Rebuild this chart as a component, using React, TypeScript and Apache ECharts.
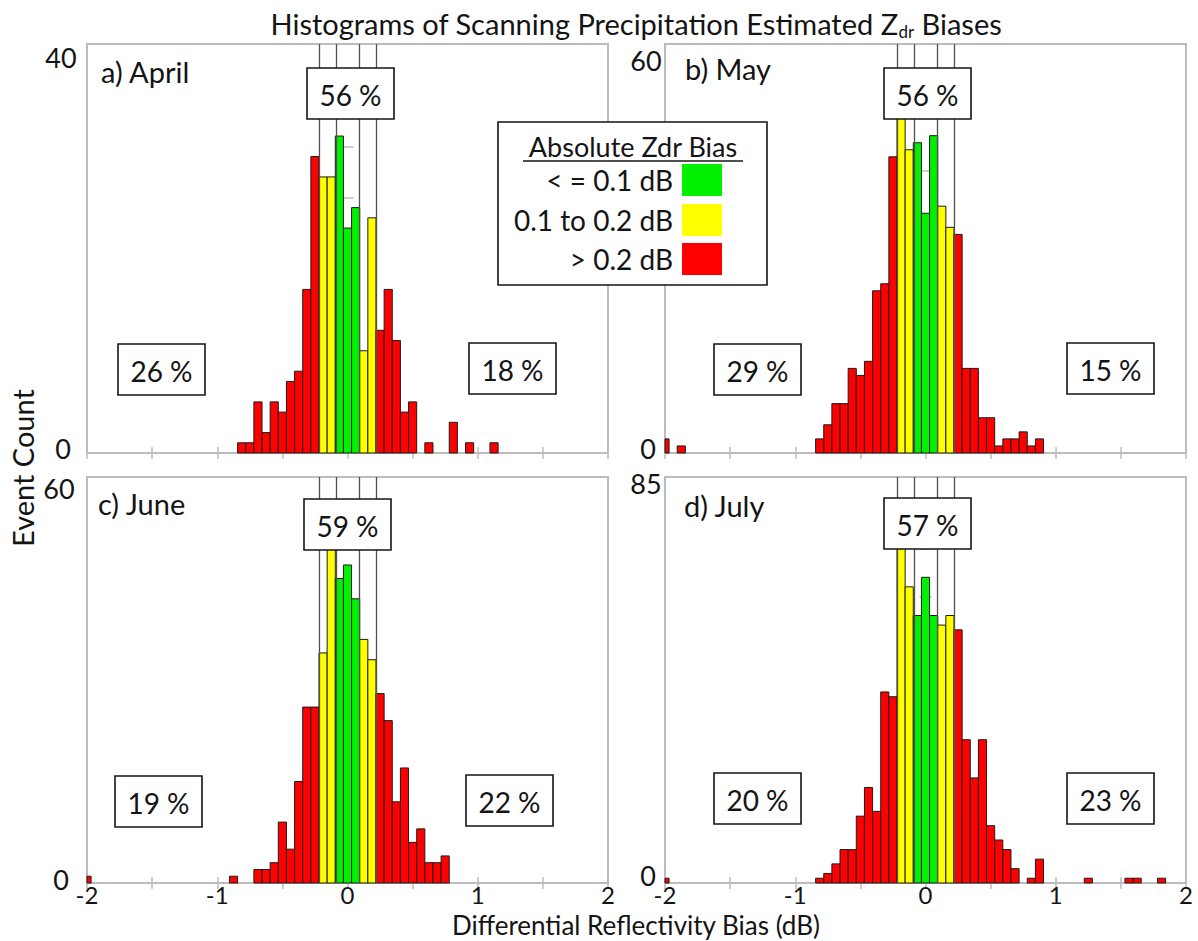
import React, { useEffect, useRef } from 'react';
import * as echarts from 'echarts';

// Histogram bins are 1/16 dB wide and centred on multiples of 1/16 dB.
const BIN_WIDTH = 0.0625;
// Colour classes by absolute Zdr bias (dB)
const GREEN_LIMIT = 0.1;
const YELLOW_LIMIT = 0.2;
// Bin edges that separate the colour classes
const GUIDE_EDGES = [-0.21875, -0.09375, 0.09375, 0.21875];

// [bin centre (dB), event count]
const aprilCounts: [number, number][] = [
  [-0.8125, 1], [-0.75, 1], [-0.6875, 5], [-0.625, 2], [-0.5625, 5], [-0.5, 4],
  [-0.4375, 7], [-0.375, 8], [-0.3125, 16], [-0.25, 29], [-0.1875, 27], [-0.125, 27],
  [-0.0625, 31], [0, 22], [0.0625, 24], [0.125, 10], [0.1875, 23], [0.25, 12],
  [0.3125, 16], [0.375, 11], [0.4375, 4], [0.5, 5], [0.625, 1], [0.8125, 3],
  [0.9375, 1], [1.125, 1],
];
const mayCounts: [number, number][] = [
  [-2, 2], [-1.875, 1], [-0.8125, 2], [-0.75, 4], [-0.6875, 7], [-0.625, 7],
  [-0.5625, 12], [-0.5, 11], [-0.4375, 13], [-0.375, 23], [-0.3125, 24], [-0.25, 42],
  [-0.1875, 53], [-0.125, 43], [-0.0625, 44], [0, 34], [0.0625, 45], [0.125, 35],
  [0.1875, 32], [0.25, 31], [0.3125, 12], [0.375, 12], [0.4375, 5], [0.5, 5],
  [0.5625, 1], [0.625, 2], [0.6875, 2], [0.75, 3], [0.8125, 1], [0.875, 2],
];
const juneCounts: [number, number][] = [
  [-2, 1], [-0.875, 1], [-0.6875, 2], [-0.625, 2], [-0.5625, 3], [-0.5, 9],
  [-0.4375, 5], [-0.375, 15], [-0.3125, 26], [-0.25, 26], [-0.1875, 34], [-0.125, 50],
  [-0.0625, 45], [0, 47], [0.0625, 42], [0.125, 36], [0.1875, 33], [0.25, 28],
  [0.3125, 24], [0.375, 12], [0.4375, 17], [0.5, 6], [0.5625, 8], [0.625, 3],
  [0.6875, 3], [0.75, 4],
];
const julyCounts: [number, number][] = [
  [-2, 1], [-0.8125, 1], [-0.75, 2], [-0.6875, 4], [-0.625, 7], [-0.5625, 7],
  [-0.5, 14], [-0.4375, 20], [-0.375, 15], [-0.3125, 40], [-0.25, 39], [-0.1875, 76],
  [-0.125, 62], [-0.0625, 56], [0, 64], [0.0625, 56], [0.125, 54], [0.1875, 56],
  [0.25, 53], [0.3125, 30], [0.375, 22], [0.4375, 30], [0.5, 12], [0.5625, 9],
  [0.625, 7], [0.6875, 3], [0.8125, 1], [0.875, 5], [1.25, 1], [1.5625, 1],
  [1.625, 1], [1.8125, 1],
];

const PANEL_COUNTS = [aprilCounts, mayCounts, juneCounts, julyCounts];
const PANEL_NAMES = ['a) April', 'b) May', 'c) June', 'd) July'];
const Y_MAX = [40, 58, 60, 85];
const Y_STEP = [5, 10, 10, 10];
const Y_TOP_LABELS = ['40', '60', '60', '85'];
const Y_BOTTOM_LABEL = '0';
const PCT_LOW = ['26 %', '29 %', '19 %', '20 %'];
const PCT_MID = ['56 %', '56 %', '59 %', '57 %'];
const PCT_HIGH = ['18 %', '15 %', '22 %', '23 %'];
const X_MIN = -2;
const X_MAX = 2;
const X_STEP = 0.5;

const LEGEND_TITLE = 'Absolute Zdr Bias';
const LEGEND_ROWS = ['< = 0.1 dB', '0.1 to 0.2 dB', '> 0.2 dB'];

const TITLE = 'Histograms of Scanning Precipitation Estimated Z{sub|dr} Biases';
const X_TITLE = 'Differential Reflectivity Bias (dB)';
const Y_TITLE = 'Event Count';

const GREEN = '#00f000';
const YELLOW = '#ffff00';
const RED = '#ff0000';
const FRAME = '#bcbcbc';
const INK = '#141414';
const FONT = 'Lato, "Open Sans", sans-serif';
const WORD_SIZE = 29;
const NUM_SIZE = 27;

// Pixel layout of the four panels and their annotations
const LAYOUT = [
  { left: 87, top: 44, width: 521, height: 409, name: [101, 71], yLab: [61, 57, 448], mid: [307, 68], low: [118, 344], high: [469, 343] },
  { left: 665, top: 44, width: 521, height: 409, name: [685, 68], yLab: [646, 60, 448], mid: [884, 68], low: [714, 344], high: [1067, 343] },
  { left: 87, top: 477, width: 521, height: 406, name: [98, 503], yLab: [59, 488, 879], mid: [304, 499], low: [115, 776], high: [466, 775] },
  { left: 665, top: 477, width: 521, height: 406, name: [684, 505], yLab: [646, 483, 875], mid: [884, 498], low: [714, 773], high: [1067, 773] },
];
const BOX_W = 87;
const BOX_H = 51;

function binColor(center: number): string {
  const a = Math.abs(center);
  if (a <= GREEN_LIMIT) return GREEN;
  if (a <= YELLOW_LIMIT) return YELLOW;
  return RED;
}

function textEl(text: string, x: number, y: number, extra: any = {}) {
  return {
    type: 'text',
    x,
    y,
    z: 120,
    silent: true,
    style: {
      text,
      fill: INK,
      fontFamily: FONT,
      fontSize: WORD_SIZE,
      align: 'center',
      verticalAlign: 'middle',
      ...extra,
    },
  };
}

function boxEl(label: string, x: number, y: number) {
  return {
    type: 'group',
    z: 110,
    children: [
      {
        type: 'rect',
        z: 110,
        silent: true,
        shape: { x, y, width: BOX_W, height: BOX_H },
        style: { fill: '#ffffff', stroke: INK, lineWidth: 1.6 },
      },
      textEl(label, x + BOX_W / 2, y + BOX_H / 2 + 1, { fontSize: 28 }),
    ],
  };
}

export default function App() {
  const ref = useRef<HTMLDivElement>(null);

  useEffect(() => {
    if (!ref.current) return;
    const chart = echarts.init(ref.current, undefined, { renderer: 'svg' });

    const grids = LAYOUT.map((p) => ({
      show: true,
      left: p.left,
      top: p.top,
      width: p.width,
      height: p.height,
      borderColor: FRAME,
      borderWidth: 2,
      backgroundColor: '#ffffff',
      containLabel: false,
    }));

    const tick = { show: true, inside: true, length: 6, lineStyle: { color: FRAME, width: 1.5 } };

    const xAxes: any[] = [];
    const yAxes: any[] = [];
    (['bottom', 'top'] as const).forEach((position) => {
      LAYOUT.forEach((_, i) => {
        xAxes.push({
          type: 'value',
          gridIndex: i,
          position,
          min: X_MIN,
          max: X_MAX,
          interval: X_STEP,
          axisLine: { show: false },
          splitLine: { show: false },
          axisTick: tick,
          axisLabel:
            position === 'bottom' && i >= 2
              ? {
                  show: true,
                  margin: -1,
                  fontSize: 24,
                  fontFamily: FONT,
                  color: INK,
                  formatter: (v: number) => (Number.isInteger(v) ? String(v) : ''),
                }
              : { show: false },
        });
      });
    });
    (['left', 'right'] as const).forEach((position) => {
      LAYOUT.forEach((_, i) => {
        yAxes.push({
          type: 'value',
          gridIndex: i,
          position,
          min: 0,
          max: Y_MAX[i],
          interval: Y_STEP[i],
          axisLine: { show: false },
          splitLine: { show: false },
          axisTick: tick,
          axisLabel: { show: false },
        });
      });
    });

    const series: any[] = [];
    PANEL_COUNTS.forEach((data, i) => {
      series.push({
        type: 'line',
        xAxisIndex: i,
        yAxisIndex: i,
        data: [],
        silent: true,
        z: 1,
        markLine: {
          silent: true,
          symbol: ['none', 'none'],
          label: { show: false },
          emphasis: { disabled: true },
          lineStyle: { color: '#505050', width: 1.3, type: 'solid' },
          data: GUIDE_EDGES.map((v) => ({ xAxis: v })),
        },
      });
      series.push({
        type: 'custom',
        xAxisIndex: i,
        yAxisIndex: i,
        z: 2,
        silent: true,
        data,
        encode: { x: 0, y: 1 },
        renderItem: (params: any, api: any) => {
          const center = api.value(0);
          const count = api.value(1);
          const p0 = api.coord([center - BIN_WIDTH / 2, count]);
          const p1 = api.coord([center + BIN_WIDTH / 2, 0]);
          const cs = params.coordSys;
          const shape = echarts.graphic.clipRectByRect(
            { x: p0[0], y: p0[1], width: p1[0] - p0[0], height: p1[1] - p0[1] },
            { x: cs.x, y: cs.y, width: cs.width, height: cs.height }
          );
          if (!shape) return null;
          return {
            type: 'rect',
            shape,
            style: { fill: binColor(center), stroke: '#1c1c1c', lineWidth: 1 },
          };
        },
      });
    });

    const graphics: any[] = [];
    // Figure title with subscript
    graphics.push({
      type: 'text',
      x: 636,
      y: 23,
      z: 120,
      silent: true,
      style: {
        text: TITLE,
        fill: INK,
        fontFamily: FONT,
        fontSize: WORD_SIZE,
        lineHeight: 34,
        align: 'center',
        verticalAlign: 'middle',
        rich: {
          sub: { fontSize: 17, fontFamily: FONT, fill: INK, lineHeight: 16, verticalAlign: 'bottom' },
        },
      },
    });
    graphics.push(textEl(X_TITLE, 636, 925, { fontSize: 26 }));
    graphics.push({ ...textEl(Y_TITLE, 22, 468), rotation: Math.PI / 2 });

    LAYOUT.forEach((p, i) => {
      graphics.push(textEl(PANEL_NAMES[i], p.name[0], p.name[1], { align: 'left' }));
      graphics.push(textEl(Y_TOP_LABELS[i], p.yLab[0], p.yLab[1], { fontSize: NUM_SIZE }));
      graphics.push(textEl(Y_BOTTOM_LABEL, p.yLab[0] + 2, p.yLab[2], { fontSize: NUM_SIZE }));
      graphics.push(boxEl(PCT_MID[i], p.mid[0], p.mid[1]));
      graphics.push(boxEl(PCT_LOW[i], p.low[0], p.low[1]));
      graphics.push(boxEl(PCT_HIGH[i], p.high[0], p.high[1]));
    });

    // Colour key
    const lg = { x: 498, y: 122, w: 269, h: 163 };
    const swatchColors = [GREEN, YELLOW, RED];
    const rowY = [180, 220, 259];
    const legendChildren: any[] = [
      {
        type: 'rect',
        z: 110,
        silent: true,
        shape: { x: lg.x, y: lg.y, width: lg.w, height: lg.h },
        style: { fill: '#ffffff', stroke: INK, lineWidth: 1.6 },
      },
      textEl(LEGEND_TITLE, 633, 146, { fontSize: 27 }),
      {
        type: 'line',
        z: 120,
        silent: true,
        shape: { x1: 523, y1: 161, x2: 743, y2: 161 },
        style: { stroke: INK, lineWidth: 1.5 },
      },
    ];
    LEGEND_ROWS.forEach((row, k) => {
      legendChildren.push(textEl(row, 673, rowY[k], { align: 'right', fontSize: 28 }));
      legendChildren.push({
        type: 'rect',
        z: 120,
        silent: true,
        shape: { x: 682, y: rowY[k] - 16, width: 40, height: 32 },
        style: { fill: swatchColors[k] },
      });
    });
    graphics.push({ type: 'group', z: 110, children: legendChildren });

    chart.setOption({
      animation: false,
      backgroundColor: '#ffffff',
      grid: grids,
      xAxis: xAxes,
      yAxis: yAxes,
      series,
      graphic: graphics,
    });

    return () => chart.dispose();
  }, []);

  return (
    <div
      ref={ref}
      style={{ position: 'absolute', left: 0, top: 0, width: 1198, height: 941 }}
    />
  );
}
